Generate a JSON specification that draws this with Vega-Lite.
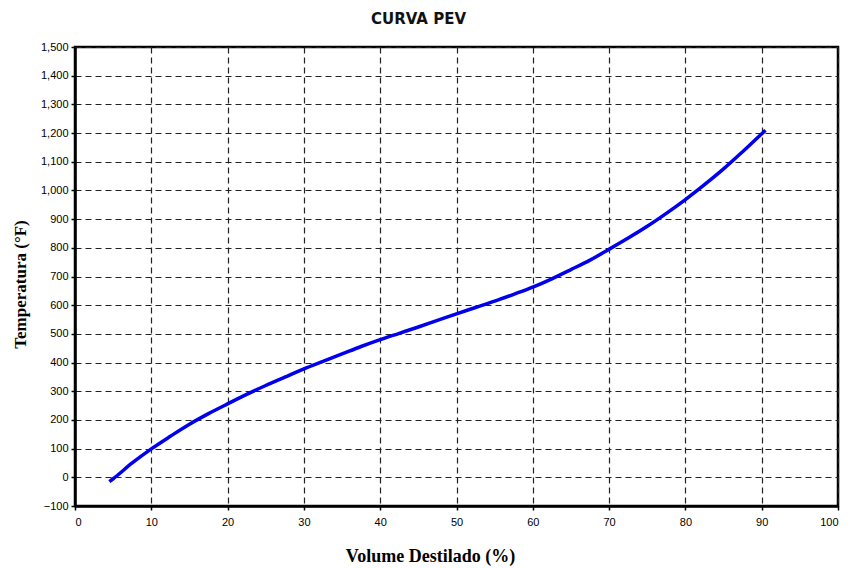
{
  "$schema": "https://vega.github.io/schema/vega-lite/v6.json",
  "width": 763,
  "height": 459,
  "autosize": {"type": "none"},
  "padding": {"left": 75, "top": 47, "right": 13, "bottom": 62},
  "background": "white",
  "title": {"text": "CURVA PEV", "font": "DejaVu Sans", "fontSize": 15, "fontWeight": "bold", "color": "#111", "anchor": "middle", "dx": -38, "offset": 14},
  "config": {
    "view": {"stroke": "black", "strokeWidth": 2.5},
    "axis": {
      "labelFont": "Liberation Sans", "labelFontSize": 11, "labelColor": "black",
      "titleFont": "Liberation Serif", "titleFontSize": 17, "titleFontWeight": "bold", "titleColor": "black",
      "domainColor": "black", "domainWidth": 2.5,
      "tickColor": "black", "tickSize": 4, "tickWidth": 1.5,
      "gridColor": "#222", "gridDash": [6, 4], "gridWidth": 1.2, "gridOpacity": 1
    }
  },
  "data": {"values": [
    {"vol": 4.5, "temp": -15},
    {"vol": 5, "temp": -5},
    {"vol": 7.5, "temp": 50},
    {"vol": 10, "temp": 99},
    {"vol": 12.5, "temp": 143},
    {"vol": 15, "temp": 185},
    {"vol": 17.5, "temp": 222},
    {"vol": 20, "temp": 256},
    {"vol": 22.5, "temp": 289},
    {"vol": 25, "temp": 320},
    {"vol": 27.5, "temp": 349},
    {"vol": 30, "temp": 378},
    {"vol": 32.5, "temp": 404},
    {"vol": 35, "temp": 430},
    {"vol": 37.5, "temp": 456},
    {"vol": 40, "temp": 480},
    {"vol": 42.5, "temp": 502},
    {"vol": 45, "temp": 524},
    {"vol": 47.5, "temp": 547},
    {"vol": 50, "temp": 570},
    {"vol": 52.5, "temp": 592},
    {"vol": 55, "temp": 614},
    {"vol": 57.5, "temp": 638},
    {"vol": 60, "temp": 663},
    {"vol": 62.5, "temp": 692},
    {"vol": 65, "temp": 724},
    {"vol": 67.5, "temp": 757},
    {"vol": 70, "temp": 795},
    {"vol": 72.5, "temp": 834},
    {"vol": 75, "temp": 875},
    {"vol": 77.5, "temp": 920},
    {"vol": 80, "temp": 968},
    {"vol": 82.5, "temp": 1020},
    {"vol": 85, "temp": 1075},
    {"vol": 87.5, "temp": 1135},
    {"vol": 90.5, "temp": 1210}
  ]},
  "mark": {"type": "line", "color": "#0000ee", "strokeWidth": 3.5, "interpolate": "monotone"},
  "encoding": {
    "x": {"field": "vol", "type": "quantitative",
      "scale": {"domain": [0, 100], "nice": false},
      "axis": {"values": [0,10,20,30,40,50,60,70,80,90,100], "title": "Volume Destilado (%)", "titleFontSize": 18, "titlePadding": 20, "titleX": 355, "labelPadding": 6}},
    "y": {"field": "temp", "type": "quantitative",
      "scale": {"domain": [-100, 1500], "nice": false},
      "axis": {"values": [-100,0,100,200,300,400,500,600,700,800,900,1000,1100,1200,1300,1400,1500], "format": ",.0f", "title": "Temperatura (°F)", "titleX": -55, "titleY": 237, "titleBaseline": "middle", "titleAlign": "center", "labelPadding": 3}}
  }
}
